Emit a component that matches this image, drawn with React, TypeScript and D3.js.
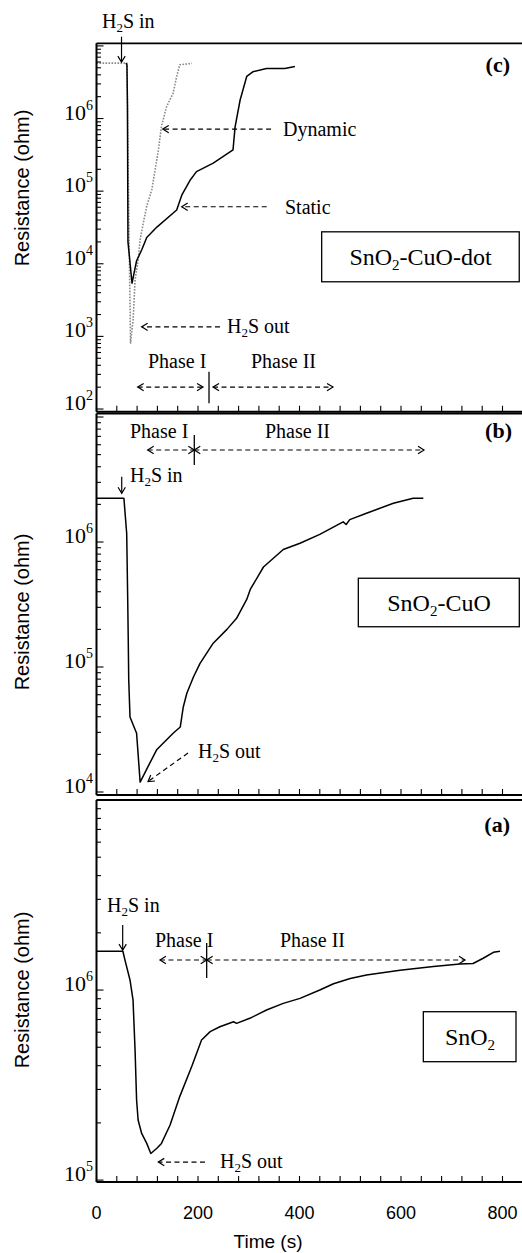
import React from 'react';
import * as d3 from 'd3';

// ---------- data ----------
const timeTickLabels = [0, 200, 400, 600, 800];

// (c) SnO2-CuO-dot, static recovery (black solid)
const dotStaticTime = [58, 60, 61, 62, 70, 76, 79, 89, 99, 119, 158, 168, 184, 197, 230, 269, 273, 283, 296, 308, 335, 371, 391];
const dotStaticRes = [5.8e6, 5.5e6, 1.5e6, 2.0e4, 5.4e3, 8.7e3, 1.1e4, 1.55e4, 2.3e4, 3.2e4, 5.5e4, 8.8e4, 1.4e5, 1.86e5, 2.43e5, 3.7e5, 7.6e5, 1.8e6, 3.8e6, 4.4e6, 4.9e6, 4.9e6, 5.2e6];

// (c) SnO2-CuO-dot, dynamic recovery (grey dotted)
const dotDynamicTime = [0, 60, 63, 67, 72, 76, 82, 86, 92, 99, 109, 112, 122, 128, 138, 151, 158, 164, 188];
const dotDynamicRes = [5.8e6, 5.8e6, 1.0e5, 8.1e2, 1.66e3, 6.0e3, 1.12e4, 2.14e4, 3.6e4, 6.2e4, 1.05e5, 1.4e5, 3.7e5, 7.8e5, 1.45e6, 2.24e6, 3.8e6, 5.5e6, 5.75e6];

// (b) SnO2-CuO
const cuoTime = [0, 54, 59.5, 61.5, 62.5, 63.5, 66, 79, 86, 105, 119, 151, 165, 171, 178, 191, 204, 230, 257, 276, 296, 303, 329, 368, 401, 440, 486, 492, 499, 532, 585, 624, 644];
const cuoRes = [2.24e6, 2.24e6, 1.17e6, 3.47e5, 1.74e5, 7.94e4, 3.98e4, 2.95e4, 1.2e4, 1.7e4, 2.19e4, 2.95e4, 3.31e4, 4.79e4, 6.17e4, 8.32e4, 1.07e5, 1.55e5, 2.0e5, 2.45e5, 3.47e5, 4.17e5, 6.31e5, 8.71e5, 9.77e5, 1.15e6, 1.45e6, 1.38e6, 1.51e6, 1.7e6, 2.04e6, 2.24e6, 2.24e6];

// (a) SnO2
const sno2Time = [0, 52, 56, 66, 72, 76, 79, 82, 89, 99, 107, 119, 128, 145, 164, 188, 207, 224, 243, 270, 276, 302, 335, 368, 401, 440, 467, 500, 532, 598, 664, 716, 742, 762, 782, 795];
const sno2Res = [1.6e6, 1.6e6, 1.44e6, 1.13e6, 8.85e5, 4.83e5, 2.64e5, 2.07e5, 1.76e5, 1.56e5, 1.38e5, 1.47e5, 1.56e5, 1.95e5, 2.75e5, 3.98e5, 5.46e5, 6.04e5, 6.41e5, 6.81e5, 6.68e5, 7.1e5, 7.85e5, 8.51e5, 9.04e5, 1.0e6, 1.08e6, 1.15e6, 1.2e6, 1.27e6, 1.33e6, 1.37e6, 1.38e6, 1.47e6, 1.58e6, 1.6e6];

// ---------- layout ----------
const W = 522;
const H = 1253;
const SERIF = '"Liberation Serif", "Times New Roman", serif';
const SANS = '"Liberation Sans", Arial, sans-serif';

const x = d3.scaleLinear().domain([0, 840]).range([96.5, 522.8]);
const xMinorTicks = d3.range(0, 841, 40);

type Pt = [number, number]; // [time, log10 R]
const P = (t: number, e: number): Pt => [t, e];

type PanelCfg = {
  key: string;
  y: d3.ScaleLogarithmic<number, number>;
  top: number;
  bottom: number;
  labelPowers: number[];
  labelCenter: number;
  tag: string;
  tagPos: Pt;
  series: { t: number[]; r: number[]; dotted?: boolean }[];
  inText: Pt;
  inArrow: [number, number, number];
  outText: Pt;
  outArrow: [Pt, Pt];
  phaseI: Pt;
  phaseII: Pt;
  divider: [number, number, number];
  phaseArrows: [number, number, number][];
  box: [Pt, Pt];
  boxText: Pt;
  boxLabel: [string, string];
  extra?: { arrow: [Pt, Pt]; text: Pt; label: string }[];
};

const panels: PanelCfg[] = [
  {
    key: 'c',
    y: d3.scaleLog().domain([10 ** 1.963, 10 ** 7.036]).range([411.7, 43.3]),
    top: 43.3,
    bottom: 411.7,
    labelPowers: [2, 3, 4, 5, 6],
    labelCenter: 188,
    tag: '(c)',
    tagPos: P(814.8, 6.64),
    series: [
      { t: dotDynamicTime, r: dotDynamicRes, dotted: true },
      { t: dotStaticTime, r: dotStaticRes },
    ],
    inText: P(10.8, 7.247),
    inArrow: [49.3, 7.127, 6.778],
    outText: P(257, 3.045),
    outArrow: [P(243.3, 3.132), P(89, 3.132)],
    phaseI: P(101.5, 2.563),
    phaseII: P(304.4, 2.563),
    divider: [221.7, 2.512, 2.081],
    phaseArrows: [
      [81.2, 209.9, 2.302],
      [229.6, 466, 2.302],
    ],
    box: [P(443.7, 4.44), P(833, 3.752)],
    boxText: P(638.4, 3.982),
    boxLabel: ['SnO', '-CuO-dot'],
    extra: [
      { arrow: [P(344, 5.855), P(130.5, 5.855)], text: P(367.5, 5.76), label: 'Dynamic' },
      { arrow: [P(335.4, 4.785), P(167.9, 4.785)], text: P(371.4, 4.69), label: 'Static' },
    ],
  },
  {
    key: 'b',
    y: d3.scaleLog().domain([10 ** 3.976, 10 ** 7.028]).range([795, 413.5]),
    top: 413.5,
    bottom: 795,
    labelPowers: [4, 5, 6],
    labelCenter: 612,
    tag: '(b)',
    tagPos: P(818.7, 6.832),
    series: [{ t: cuoTime, r: cuoRes }],
    inText: P(66, 6.482),
    inArrow: [49.7, 6.522, 6.39],
    outText: P(200, 4.27),
    outArrow: [P(180.3, 4.312), P(101.5, 4.084)],
    phaseI: P(66, 6.83),
    phaseII: P(332, 6.83),
    divider: [192.7, 6.856, 6.616],
    phaseArrows: [
      [100.9, 192.7, 6.736],
      [192.7, 645.3, 6.736],
    ],
    box: [P(515.9, 5.71), P(833.1, 5.322)],
    boxText: P(674.9, 5.448),
    boxLabel: ['SnO', '-CuO'],
  },
  {
    key: 'a',
    y: d3.scaleLog().domain([10 ** 4.99, 10 ** 7.0]).range([1182, 800]),
    top: 800,
    bottom: 1182,
    labelPowers: [5, 6],
    labelCenter: 990,
    tag: '(a)',
    tagPos: P(814.8, 6.832),
    series: [{ t: sno2Time, r: sno2Res }],
    inText: P(20.7, 6.412),
    inArrow: [51.6, 6.342, 6.21],
    outText: P(243.3, 5.062),
    outArrow: [P(213.8, 5.095), P(121.8, 5.095)],
    phaseI: P(115.3, 6.228),
    phaseII: P(361.6, 6.228),
    divider: [217.1, 6.247, 6.063],
    phaseArrows: [
      [125.1, 217.1, 6.158],
      [217.1, 726.1, 6.158],
    ],
    box: [P(644, 5.886), P(826.6, 5.623)],
    boxText: P(736, 5.71),
    boxLabel: ['SnO', ''],
  },
];

// ---------- helpers ----------
function headPath(px: number, py: number, dir: number, L = 7, a = 0.55) {
  const p1 = [px - L * Math.cos(dir - a), py - L * Math.sin(dir - a)];
  const p2 = [px - L * Math.cos(dir + a), py - L * Math.sin(dir + a)];
  return `M${p1[0]},${p1[1]}L${px},${py}L${p2[0]},${p2[1]}`;
}

function Arrow({ x1, y1, x2, y2, start, end, dashed }: { x1: number; y1: number; x2: number; y2: number; start?: boolean; end?: boolean; dashed?: boolean }) {
  const ang = Math.atan2(y2 - y1, x2 - x1);
  return (
    <g stroke="#000" fill="none" strokeWidth={1.2}>
      <line x1={x1} y1={y1} x2={x2} y2={y2} strokeDasharray={dashed ? '5,3.5' : undefined} />
      {end && <path d={headPath(x2, y2, ang)} />}
      {start && <path d={headPath(x1, y1, ang + Math.PI)} />}
    </g>
  );
}

function H2S({ x0, y0, rest }: { x0: number; y0: number; rest: string }) {
  return (
    <text x={x0} y={y0} fontFamily={SERIF} fontSize={20}>
      H<tspan dy={4} fontSize={13}>2</tspan>
      <tspan dy={-4}>{rest}</tspan>
    </text>
  );
}

function Panel({ cfg, showXLabels }: { cfg: PanelCfg; showXLabels: boolean }) {
  const y = cfg.y;
  const Y = (e: number) => y(10 ** e);
  const [lo, hi] = y.domain();
  const logTicks: { v: number; major: boolean }[] = [];
  for (let k = Math.floor(Math.log10(lo)); k <= Math.ceil(Math.log10(hi)); k++) {
    for (let m = 1; m <= 9; m++) {
      const v = m * 10 ** k;
      if (v >= lo && v <= hi) logTicks.push({ v, major: m === 1 });
    }
  }
  const line = d3
    .line<[number, number]>()
    .x((d) => x(d[0]))
    .y((d) => y(d[1]));
  const left = x(0);

  return (
    <g>
      {/* series */}
      {cfg.series.map((s, i) => (
        <path
          key={i}
          d={line(s.t.map((t, j) => [t, s.r[j]] as [number, number])) || ''}
          fill="none"
          stroke={s.dotted ? '#8a8a8a' : '#000'}
          strokeWidth={s.dotted ? 1.6 : 1.5}
          strokeDasharray={s.dotted ? '1.6,1.4' : undefined}
          strokeLinejoin="round"
        />
      ))}

      {/* frame */}
      <line x1={left} y1={cfg.top} x2={W} y2={cfg.top} stroke="#000" strokeWidth={1.8} />
      <line x1={left} y1={cfg.bottom} x2={W} y2={cfg.bottom} stroke="#000" strokeWidth={2} />
      <line x1={left} y1={cfg.top} x2={left} y2={cfg.bottom} stroke="#000" strokeWidth={2} />

      {/* y ticks */}
      {logTicks.map((t, i) => (
        <line key={i} x1={left} x2={left + (t.major ? 7 : 4.5)} y1={y(t.v)} y2={y(t.v)} stroke="#000" strokeWidth={1.1} />
      ))}
      {/* x ticks */}
      {xMinorTicks.map((t) => (
        <line key={t} x1={x(t)} x2={x(t)} y1={cfg.bottom} y2={cfg.bottom - 6} stroke="#000" strokeWidth={1.1} />
      ))}

      {/* y tick labels */}
      {cfg.labelPowers.map((p) => (
        <text key={p} x={93} y={y(10 ** p) + 1} textAnchor="end" fontFamily={SERIF} fontSize={22}>
          10
          <tspan dy={-10} fontSize={14}>
            {p}
          </tspan>
        </text>
      ))}

      {/* x tick labels */}
      {showXLabels &&
        timeTickLabels.map((t) => (
          <text key={t} x={x(t)} y={cfg.bottom + 37} textAnchor="middle" fontFamily={SANS} fontSize={18}>
            {t}
          </text>
        ))}

      {/* y axis title */}
      <text transform={`translate(28.5,${cfg.labelCenter}) rotate(-90)`} textAnchor="middle" fontFamily={SANS} fontSize={20}>
        Resistance (ohm)
      </text>

      {/* panel tag */}
      <text x={x(cfg.tagPos[0])} y={Y(cfg.tagPos[1])} textAnchor="end" fontFamily={SERIF} fontWeight="bold" fontSize={22}>
        {cfg.tag}
      </text>

      {/* H2S in */}
      <H2S x0={x(cfg.inText[0])} y0={Y(cfg.inText[1])} rest="S in" />
      <Arrow x1={x(cfg.inArrow[0])} y1={Y(cfg.inArrow[1])} x2={x(cfg.inArrow[0])} y2={Y(cfg.inArrow[2])} end />

      {/* H2S out */}
      <H2S x0={x(cfg.outText[0])} y0={Y(cfg.outText[1])} rest="S out" />
      <Arrow
        x1={x(cfg.outArrow[0][0])}
        y1={Y(cfg.outArrow[0][1])}
        x2={x(cfg.outArrow[1][0])}
        y2={Y(cfg.outArrow[1][1])}
        end
        dashed
      />

      {/* phases */}
      <text x={x(cfg.phaseI[0])} y={Y(cfg.phaseI[1])} fontFamily={SERIF} fontSize={20}>
        Phase I
      </text>
      <text x={x(cfg.phaseII[0])} y={Y(cfg.phaseII[1])} fontFamily={SERIF} fontSize={20}>
        Phase II
      </text>
      <line
        x1={x(cfg.divider[0])}
        x2={x(cfg.divider[0])}
        y1={Y(cfg.divider[1])}
        y2={Y(cfg.divider[2])}
        stroke="#000"
        strokeWidth={1.3}
      />
      {cfg.phaseArrows.map((a, i) => (
        <Arrow key={i} x1={x(a[0])} y1={Y(a[2])} x2={x(a[1])} y2={Y(a[2])} start end dashed />
      ))}

      {/* extra labelled arrows */}
      {cfg.extra &&
        cfg.extra.map((e, i) => (
          <g key={i}>
            <Arrow x1={x(e.arrow[0][0])} y1={Y(e.arrow[0][1])} x2={x(e.arrow[1][0])} y2={Y(e.arrow[1][1])} end dashed />
            <text x={x(e.text[0])} y={Y(e.text[1])} fontFamily={SERIF} fontSize={20}>
              {e.label}
            </text>
          </g>
        ))}

      {/* sample box */}
      <rect
        x={x(cfg.box[0][0])}
        y={Y(cfg.box[0][1])}
        width={x(cfg.box[1][0]) - x(cfg.box[0][0])}
        height={Y(cfg.box[1][1]) - Y(cfg.box[0][1])}
        fill="#fff"
        stroke="#000"
        strokeWidth={1.3}
      />
      <text x={x(cfg.boxText[0])} y={Y(cfg.boxText[1])} textAnchor="middle" fontFamily={SERIF} fontSize={24}>
        {cfg.boxLabel[0]}
        <tspan dy={5} fontSize={15}>
          2
        </tspan>
        <tspan dy={-5}>{cfg.boxLabel[1]}</tspan>
      </text>
    </g>
  );
}

export default function App() {
  return (
    <svg
      width={W}
      height={H}
      viewBox={`0 0 ${W} ${H}`}
      style={{ position: 'absolute', left: 0, top: 0, background: '#fff' }}
    >
      <rect x={0} y={0} width={W} height={H} fill="#fff" />
      {panels.map((p) => (
        <Panel key={p.key} cfg={p} showXLabels={p.key === 'a'} />
      ))}
      <text x={268} y={1248} textAnchor="middle" fontFamily={SANS} fontSize={19}>
        Time (s)
      </text>
    </svg>
  );
}
